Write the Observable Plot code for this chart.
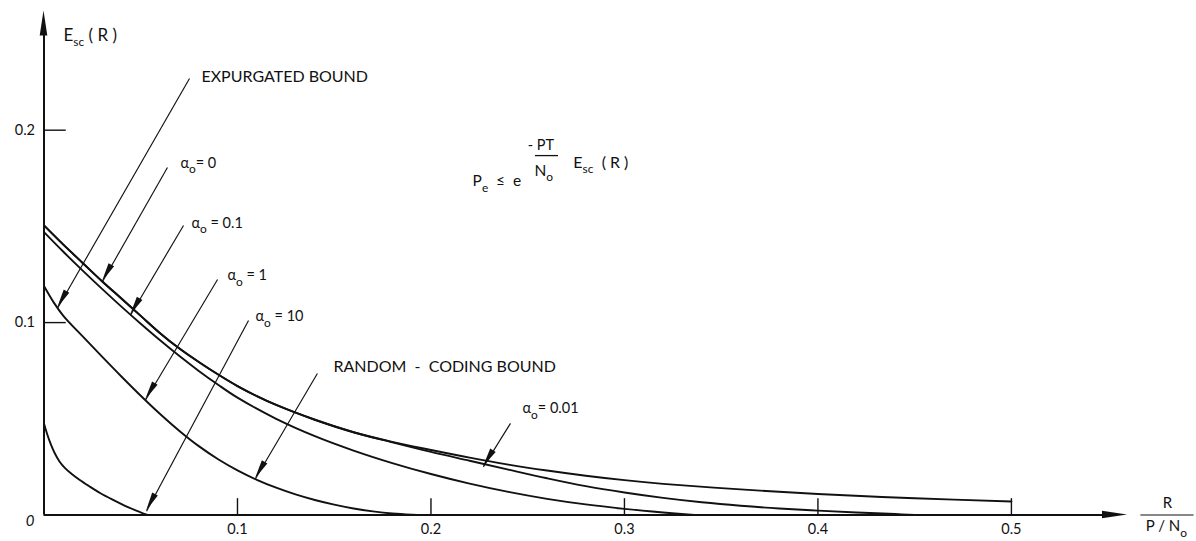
<!DOCTYPE html>
<html><head><meta charset="utf-8">
<script src="https://cdn.jsdelivr.net/npm/d3@7"></script>
<script src="https://cdn.jsdelivr.net/npm/@observablehq/plot@0.6"></script>
<style>body{margin:0;background:#fff} svg{display:block;background:#fff}</style>
</head><body><div id="chart"></div>
<script>
const FONT = "Lato, 'Open Sans', sans-serif";

// ---- curve data: R/(P/N0) vs Esc(R) ----
const R_a0   = [0,.01,.02,.03,.04,.05,.06,.07,.08,.09,.10,.11,.12,.14,.16,.18,.20,.22,.24,.26,.28,.30,.32,.36,.40,.45,.50];
const E_a0   = [.1505,.1405,.131,.1215,.1125,.1035,.0945,.0865,.0795,.073,.067,.0618,.0572,.0495,.043,.038,.0338,.0298,.0262,.0231,.0204,.0181,.0162,.0133,.0109,.0087,.007];
const R_a001 = [0,.01,.02,.03,.04,.05,.06,.07,.08,.09,.10,.11,.12,.14,.16,.18,.20,.22,.24,.26,.28,.30,.32,.34,.36,.38,.40,.42,.44,.45];
const E_a001 = [.1505,.1405,.131,.1215,.1125,.1035,.0945,.0865,.0795,.073,.067,.0618,.0572,.0495,.043,.0378,.0328,.0282,.0236,.0191,.015,.0117,.0089,.0066,.0048,.0034,.0023,.0013,.0005,0];
const R_a01  = [0,.01,.02,.03,.04,.05,.06,.07,.08,.09,.10,.12,.14,.16,.18,.20,.22,.24,.26,.28,.30,.32,.336];
const E_a01  = [.147,.1368,.127,.1175,.1083,.0994,.0908,.0826,.0749,.0677,.061,.05,.041,.0335,.027,.0213,.0163,.012,.0084,.0055,.0032,.0013,0];
const R_a1   = [0,.005,.01,.02,.03,.04,.05,.06,.07,.08,.09,.10,.11,.12,.13,.14,.15,.16,.17,.18,.19,.197];
const E_a1   = [.119,.1105,.1035,.0928,.0823,.072,.062,.0525,.0437,.0358,.029,.0232,.0183,.0142,.0107,.0078,.0054,.0034,.0019,.0008,.0002,0];
const R_a10  = [0,.0015,.0035,.0055,.008,.011,.0145,.0185,.023,.0292,.036,.0431,.0499,.0535];
const E_a10  = [.0476,.0425,.0368,.0322,.0278,.0242,.0212,.0182,.0152,.0113,.0077,.0042,.0014,0];

const seriesNames = ["0","0.01","0.1","1","10"];
const seriesR = [R_a0,R_a001,R_a01,R_a1,R_a10];
const seriesE = [E_a0,E_a001,E_a01,E_a1,E_a10];

// ---- axes ----
const xTicks = [0.1,0.2,0.3,0.4,0.5];
const xTickLabels = ["0.1","0.2","0.3","0.4","0.5"];
const yTicks = [0.1,0.2];
const yTickLabels = ["0.1","0.2"];

// ---- annotations (data coordinates) ----
const boundText = ["EXPURGATED BOUND","RANDOM  -  CODING BOUND"];
const boundR    = [.0814,.1496];
const boundE    = [.2248,.0741];
const alphaText = ["α_{o}= 0","α_{o} = 0.1","α_{o} = 1","α_{o} = 10","α_{o}= 0.01"];
const alphaR    = [.0705,.0762,.0948,.1093,.2473];
const alphaE    = [.1806,.1494,.1219,.1006,.0528];

const leaderR1 = [.0752,.0638,.0721,.0897,.1057,.1413,.2411];
const leaderE1 = [.2269,.1806,.1505,.1224,.1011,.0735,.0476];
const leaderR2 = [.0070,.0302,.0447,.0525,.0530,.1093,.2271];
const leaderE2 = [.1075,.1212,.1038,.0598,.0020,.0188,.0250];

const curveRows = seriesNames.flatMap((s,k)=>seriesR[k].map((r,i)=>({series:s,R:r,E:seriesE[k][i]})));
const leaders = leaderR1.map((r,i)=>({x1:r,y1:leaderE1[i],x2:leaderR2[i],y2:leaderE2[i]}));
const bounds = boundText.map((t,i)=>({t,R:boundR[i],E:boundE[i]}));
const alphas = alphaText.map((t,i)=>({t,R:alphaR[i],E:alphaE[i]}));

const X_END = 0.56, Y_END = 0.262;
const ink = "#111";
const plot = Plot.plot({
  width:1196, height:541, margin:0,
  style:{fontFamily:FONT, background:"#fff"},
  x:{domain:[0,X_END], range:[43.5,1127], axis:null},
  y:{domain:[0,Y_END], range:[514.5,10.4], axis:null},
  marks:[
    Plot.line(curveRows,{x:"R",y:"E",z:"series",curve:"catmull-rom",stroke:ink,strokeWidth:1.9}),
    Plot.ruleY([0],{x1:0,x2:X_END-0.012,stroke:ink,strokeWidth:2}),
    Plot.ruleX([0],{y1:0,y2:Y_END-0.012,stroke:ink,strokeWidth:2}),
    Plot.ruleX(xTicks,{y1:0,y2:0.0085,stroke:ink,strokeWidth:1.4}),
    Plot.ruleY(yTicks,{x1:0,x2:0.0115,stroke:ink,strokeWidth:1.4}),
    Plot.text(xTicks,{x:d=>d,y:0,text:(d,i)=>xTickLabels[i],dy:14,fontSize:14.5,letterSpacing:1.2,fill:ink}),
    Plot.text(yTicks,{x:0,y:d=>d,text:(d,i)=>yTickLabels[i],dx:-9,textAnchor:"end",fontSize:14.5,letterSpacing:1.2,fill:ink}),
    Plot.text(["0"],{x:0,y:0,dx:-14,dy:6,text:d=>d,fontSize:15,fontStyle:"italic",fill:ink}),
    Plot.link(leaders,{x1:"x1",y1:"y1",x2:"x2",y2:"y2",stroke:ink,strokeWidth:1.15}),
    Plot.text(bounds,{x:"R",y:"E",text:"t",textAnchor:"start",lineAnchor:"bottom",fontSize:16,letterSpacing:0.2,fill:ink}),
    Plot.text(alphas,{x:"R",y:"E",text:"t",textAnchor:"start",lineAnchor:"bottom",fontSize:14.5,fill:ink}),
    // axis titles / formula
    Plot.text(["E_{sc} ( R )"],{x:0.0101,y:0.2466,text:d=>d,textAnchor:"start",lineAnchor:"bottom",fontSize:17,fill:ink}),
    Plot.text(["P_{e}  ≤  e"],{x:0.2215,y:0.1708,text:d=>d,textAnchor:"start",lineAnchor:"bottom",fontSize:15.5,fill:ink}),
    Plot.text(["- PT"],{x:0.2500,y:0.1895,text:d=>d,textAnchor:"start",lineAnchor:"bottom",fontSize:14.5,fill:ink}),
    Plot.ruleY([0.1868],{x1:0.2540,x2:0.2659,stroke:ink,strokeWidth:1.3}),
    Plot.text(["N_{o}"],{x:0.2535,y:0.1764,text:d=>d,textAnchor:"start",lineAnchor:"bottom",fontSize:15.5,fill:ink}),
    Plot.text(["E_{sc}  ( R )"],{x:0.2736,y:0.1805,text:d=>d,textAnchor:"start",lineAnchor:"bottom",fontSize:16,fill:ink}),
    Plot.text(["R"],{x:0.5806,y:0.0036,text:d=>d,lineAnchor:"bottom",fontSize:15,fill:ink}),
    Plot.ruleY([0],{x1:0.5669,x2:0.5944,stroke:ink,strokeWidth:1.2}),
    Plot.text(["P / N_{o}"],{x:0.5801,y:-0.0085,text:d=>d,lineAnchor:"bottom",fontSize:15,fill:ink})
  ]
});

// arrowheads (filled) computed through the plot's own scales
const sx = plot.scale("x"), sy = plot.scale("y");
const svg = d3.select(plot);
function head(x1,y1,x2,y2,L,w){
  const ax=sx.apply(x1), ay=sy.apply(y1), bx=sx.apply(x2), by=sy.apply(y2);
  const d=Math.hypot(bx-ax,by-ay), ux=(bx-ax)/d, uy=(by-ay)/d;
  const cx=bx-ux*L, cy=by-uy*L;
  svg.append("polygon").attr("fill",ink)
    .attr("points",[[bx,by],[cx-uy*w,cy+ux*w],[cx+uy*w,cy-ux*w]].map(p=>p.join(",")).join(" "));
}
leaders.forEach(l=>head(l.x1,l.y1,l.x2,l.y2,19,3.2));
head(0,0,X_END,0,25,3.8);
head(0,0,0,Y_END,25,3.8);

// subscripts
svg.selectAll("text").each(function(){
  const el=this, s=el.textContent;
  if(!/_\{/.test(s)) return;
  const fs=parseFloat(getComputedStyle(el).fontSize)||14;
  el.textContent="";
  const re=/_\{([^}]*)\}/g; let last=0,m; const parts=[];
  while((m=re.exec(s))){ if(m.index>last) parts.push([s.slice(last,m.index),0]); parts.push([m[1],1]); last=re.lastIndex; }
  if(last<s.length) parts.push([s.slice(last),0]);
  let cur=0;
  for(const [t,k] of parts){
    const ts=document.createElementNS("http://www.w3.org/2000/svg","tspan");
    const target=k?fs*0.38:0;
    if(target!==cur) ts.setAttribute("dy",(target-cur)+"px");
    cur=target;
    if(k) ts.setAttribute("font-size",(fs*0.85)+"px");
    ts.textContent=t;
    el.appendChild(ts);
  }
});
svg.selectAll("text").style("white-space","pre");
document.getElementById("chart").appendChild(plot);
</script></body></html>
